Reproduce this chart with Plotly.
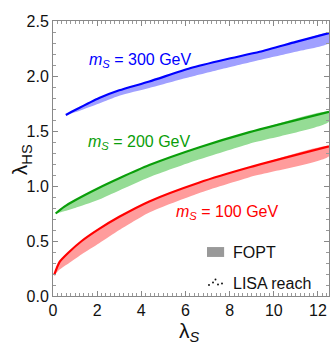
import plotly.graph_objects as go

# band edges (lambda_S vs lambda_HS)
red_ls = [0.05, 0.3, 0.73, 1.3, 2.09, 3.0, 4.36, 6.6, 8.9, 12.5]
red_up = [0.19, 0.31, 0.40, 0.50, 0.61, 0.72, 0.86, 1.03, 1.17, 1.36]
red_lo = [0.19, 0.24, 0.30, 0.38, 0.48, 0.60, 0.76, 0.935, 1.08, 1.27]

green_ls = [0.12, 0.5, 1.0, 2.0, 3.0, 4.36, 6.6, 8.9, 12.5]
green_up = [0.75, 0.81, 0.87, 0.975, 1.07, 1.19, 1.35, 1.49, 1.675]
green_lo = [0.75, 0.77, 0.80, 0.87, 0.96, 1.08, 1.24, 1.385, 1.585]

blue_ls = [0.58, 1.0, 2.09, 3.0, 4.36, 6.2, 7.8, 9.36, 11.0, 12.5]
blue_up = [1.645, 1.69, 1.80, 1.87, 1.95, 2.07, 2.15, 2.22, 2.31, 2.39]
blue_lo = [1.645, 1.67, 1.75, 1.82, 1.89, 1.99, 2.07, 2.145, 2.22, 2.30]

bands = [
    (red_ls, red_up, red_lo, "#ff0000", "#ff9c9c"),
    (green_ls, green_up, green_lo, "#0a9e0a", "#95dc95"),
    (blue_ls, blue_up, blue_lo, "#0000ff", "#a0a0ff"),
]

labels = ["m<sub>S</sub> = 100 GeV", "m<sub>S</sub> = 200 GeV", "m<sub>S</sub> = 300 GeV"]
label_pos = [(7.9, 0.76), (3.9, 1.40), (3.95, 2.14)]
label_col = ["#ff0000", "#0a9e0a", "#0000ff"]

fig = go.Figure()
for ls, up, lo, dark, light in bands:
    fig.add_trace(go.Scatter(
        x=ls + ls[::-1], y=up + lo[::-1], fill="toself", fillcolor=light,
        mode="lines", line=dict(width=0, shape="spline", smoothing=0.6),
        hoverinfo="skip", showlegend=False))
    fig.add_trace(go.Scatter(
        x=ls, y=up, mode="lines",
        line=dict(color=dark, width=2.2, shape="spline", smoothing=0.6),
        showlegend=False))

font = "Liberation Sans, Arial, sans-serif"
for txt, (lx, ly), c in zip(labels, label_pos, label_col):
    italic = txt.replace("m<sub>S</sub>", "<i>m</i><sub><i>S</i></sub>")
    fig.add_annotation(x=lx, y=ly, text=italic, showarrow=False,
                       xanchor="center", yanchor="middle",
                       font=dict(size=16, color=c, family=font))

# hand-made legend
fig.add_shape(type="rect", xref="paper", yref="paper", x0=0.558, x1=0.620,
              y0=0.142, y1=0.178, fillcolor="#999999", line=dict(width=0))
fig.add_annotation(xref="paper", yref="paper", x=0.645, y=0.16, xanchor="left",
                   yanchor="middle", text="FOPT", showarrow=False,
                   font=dict(size=16, color="#111", family=font))
fig.add_annotation(xref="paper", yref="paper", x=0.645, y=0.047, xanchor="left",
                   yanchor="middle", text="LISA reach", showarrow=False,
                   font=dict(size=16, color="#111", family=font))
for px, py in [(209, 285), (213, 282.5), (215.5, 279.5), (218, 284.5), (222, 283.5)]:
    cx = (px - 53) / 276
    cy = (296 - py) / 275
    fig.add_shape(type="circle", xref="paper", yref="paper",
                  x0=cx - 0.0035, x1=cx + 0.0035, y0=cy - 0.0035, y1=cy + 0.0035,
                  fillcolor="#111", line=dict(width=0))

# axis titles
fig.add_annotation(xref="paper", yref="paper", x=0.496, y=-0.131,
                   xanchor="center", yanchor="middle",
                   text="λ<sub><i>S</i></sub>", showarrow=False,
                   font=dict(size=21, color="#111", family=font))
fig.add_annotation(xref="paper", yref="paper", x=-0.115, y=0.495, textangle=-90,
                   xanchor="center", yanchor="middle",
                   text="λ<sub>HS</sub>", showarrow=False,
                   font=dict(size=21, color="#111", family=font))

axis_common = dict(showgrid=False, zeroline=False, showline=True, linecolor="#888",
                   linewidth=1, mirror="allticks", ticks="inside", ticklen=5,
                   tickcolor="#888", automargin=False,
                   tickfont=dict(size=16, color="#111", family=font))
fig.update_xaxes(range=[0, 12.5], dtick=2, tick0=0,
                 minor=dict(ticks="inside", ticklen=3, dtick=0.2, tickcolor="#999"),
                 **axis_common)
fig.update_yaxes(range=[0, 2.5], dtick=0.5, tick0=0, tickformat=".1f",
                 minor=dict(ticks="inside", ticklen=3, dtick=0.1, tickcolor="#999"),
                 **axis_common)

fig.update_layout(width=332, height=346, margin=dict(l=53, r=3, t=21, b=50),
                  plot_bgcolor="white", paper_bgcolor="white", showlegend=False)
fig.write_html("out.html", config={"displayModeBar": False},
               post_script="document.body.style.margin='0';document.body.style.overflow='hidden';")
